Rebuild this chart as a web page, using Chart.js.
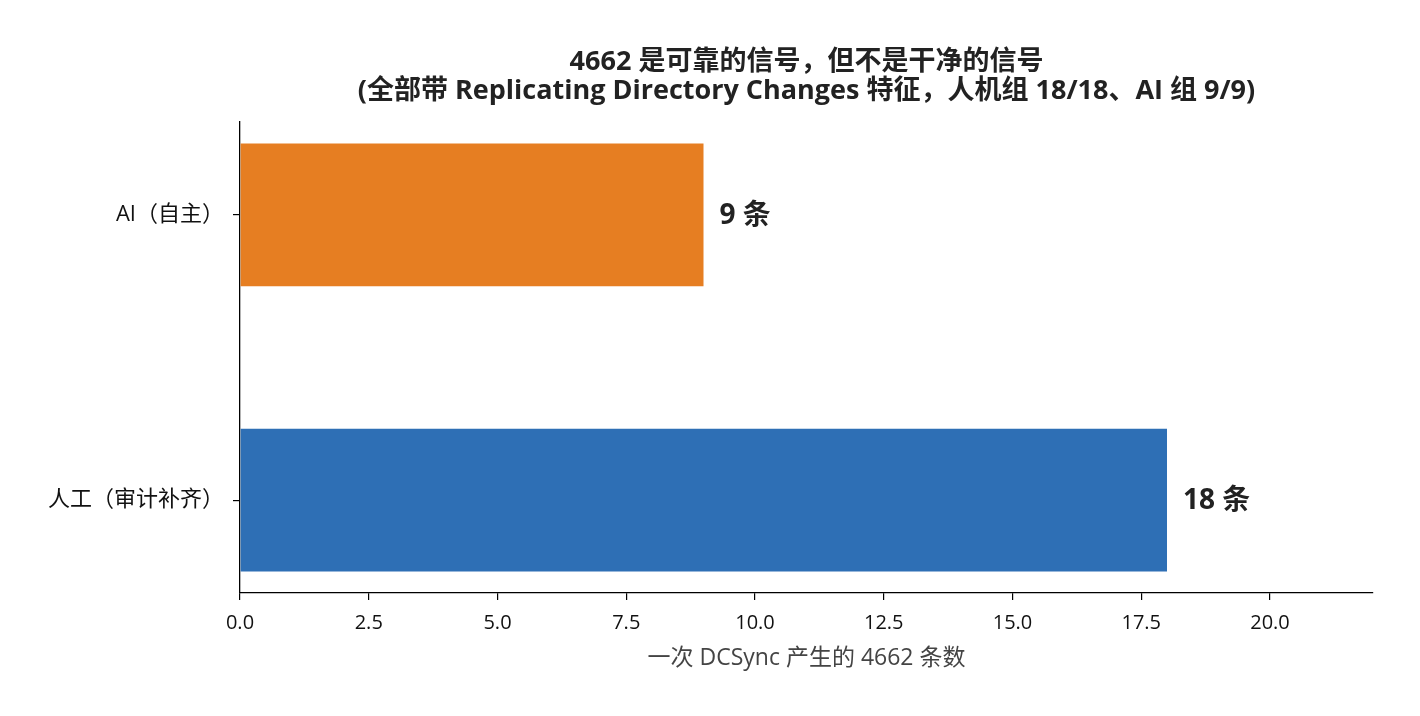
<!DOCTYPE html>
<html>
<head>
<meta charset="utf-8">
<script src="https://cdn.jsdelivr.net/npm/chart.js@4"></script>
<style>
  html, body { margin: 0; padding: 0; background: #fff; }
  canvas { display: block; }
</style>
</head>
<body>
<canvas id="c" width="1420" height="716"></canvas>
<script>
// bottom-to-top order, same as the picture's y positions 0 and 1
const categories = ['人工（审计补齐）', 'AI（自主）'];
const counts = [18, 9];
const barColors = ['#2E6FB5', '#E67E22'];
const valueLabels = ['18 条', '9 条'];
const xTicks = [0, 2.5, 5, 7.5, 10, 12.5, 15, 17.5, 20];
const titleLines = [
    '4662 是可靠的信号，但不是干净的信号',
    '(全部带 Replicating Directory Changes 特征，人机组 18/18、AI 组 9/9)',
];
const xTitle = '一次 DCSync 产生的 4662 条数';

const FONT = '"Open Sans", "Noto Sans CJK SC", sans-serif';

// title centred over the plot area, value labels at the bar ends
const overlay = {
    id: 'overlay',
    afterDraw(chart) {
        const ctx = chart.ctx;
        const area = chart.chartArea;
        const xs = chart.scales.x, ys = chart.scales.y;
        ctx.save();
        ctx.fillStyle = '#222';
        ctx.textAlign = 'center';
        ctx.textBaseline = 'middle';
        ctx.font = `bold 27px ${FONT}`;
        const cx = (area.left + area.right) / 2;
        ctx.fillText(titleLines[0], cx, 62);
        ctx.fillText(titleLines[1], cx, 91);

        ctx.textAlign = 'left';
        ctx.font = `bold 28px ${FONT}`;
        counts.forEach((v, i) => {
            ctx.fillText(valueLabels[i], xs.getPixelForValue(v) + 16, ys.getPixelForValue(i) + 1);
        });
        ctx.restore();
    }
};

new Chart(document.getElementById('c').getContext('2d'), {
    type: 'bar',
    data: {
        datasets: [{
            data: counts.map((v, i) => ({ x: v, y: i })),
            backgroundColor: barColors,
            borderWidth: 0,
            barPercentage: 1,
            categoryPercentage: 0.5,
        }],
    },
    options: {
        indexAxis: 'y',
        responsive: false,
        devicePixelRatio: 1,
        animation: false,
        layout: { padding: { top: 122, right: 47, left: 0, bottom: 42 } },
        plugins: {
            legend: { display: false },
            tooltip: { enabled: false },
            title: { display: false },
        },
        scales: {
            x: {
                type: 'linear',
                min: 0,
                max: 22,
                afterBuildTicks: (s) => { s.ticks = xTicks.map(v => ({ value: v })); },
                afterFit: (s) => { s.height = 81; },
                grid: { drawOnChartArea: false, drawTicks: true, tickLength: 7, color: '#000', lineWidth: 1.2 },
                border: { display: true, color: '#000', width: 1.3 },
                ticks: {
                    color: '#111',
                    font: { family: FONT, size: 20 },
                    padding: 11,
                    maxRotation: 0,
                    callback: (v) => Number(v).toFixed(1),
                },
                title: {
                    display: true,
                    text: xTitle,
                    color: '#444',
                    font: { family: FONT, size: 23 },
                    padding: { top: 6, bottom: 2 },
                },
            },
            y: {
                type: 'linear',
                offset: false,
                min: -0.325,
                max: 1.325,
                afterBuildTicks: (s) => { s.ticks = categories.map((c, i) => ({ value: i })); },
                afterFit: (s) => { s.width = 240; },
                grid: { offset: false, drawOnChartArea: false, drawTicks: true, tickLength: 7, color: '#000', lineWidth: 1.2 },
                border: { display: true, color: '#000', width: 1.3 },
                ticks: {
                    color: '#111',
                    font: { family: FONT, size: 22 },
                    padding: 9,
                    callback: (v) => categories[v] ?? '',
                },
            },
        },
    },
    plugins: [overlay],
});
</script>
</body>
</html>
